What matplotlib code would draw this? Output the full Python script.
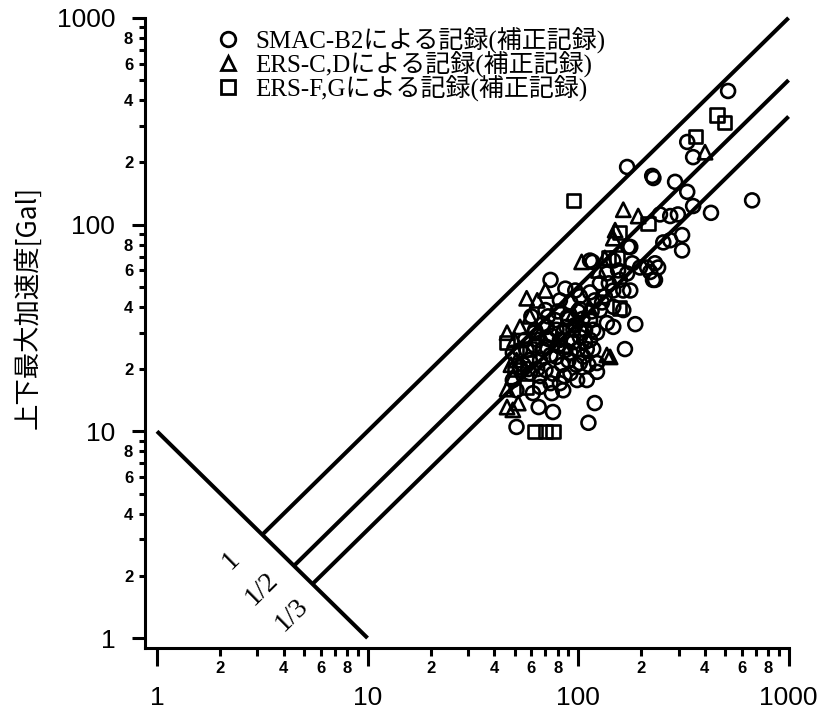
import numpy as np
import matplotlib.pyplot as plt
from matplotlib.lines import Line2D
from matplotlib.ticker import FixedLocator, FuncFormatter
from matplotlib.font_manager import FontProperties

plt.rcParams['font.family'] = ['Liberation Sans', 'Noto Sans CJK JP']

# 水平最大加速度 [Gal] (x) と 上下最大加速度 [Gal] (y)
smac_x = [516, 330, 352, 171, 225, 228, 289, 330, 671, 352, 428, 245, 274, 298,
          312, 274, 254, 312, 232, 213, 240, 232, 181, 177, 147, 117, 74, 87,
          60, 187, 167, 123, 120, 112, 65, 76, 51,
          71, 79, 102, 114, 92, 110, 123, 102, 92, 82, 74, 66, 59, 53, 49, 49,
          57, 64, 71, 79, 89, 92, 102, 114, 127, 137, 147, 147, 137, 123, 114,
          102, 147, 164, 164, 171, 197, 220, 227, 110, 99, 85, 75, 61, 51, 114,
          173, 82, 74, 66, 87, 97, 108, 127, 78, 70, 82, 97, 120, 134, 158,
          177, 56, 62.5, 70, 59, 53,
          85, 95, 105, 90, 100, 118, 130, 140, 155, 80, 68, 62, 58, 72, 88,
          104, 116,
          64, 68, 75, 84, 92, 98, 106, 112, 100, 90, 80, 76, 66, 86, 95,
          108, 118, 72, 62, 55]
smac_y = [443, 251, 212, 190, 172, 168, 161, 144, 131, 123, 114, 112, 110, 112,
          89, 84, 82, 75, 65, 62, 62, 54, 65, 78, 67, 66, 54, 49,
          36, 33, 25, 19.4, 13.7, 11, 13.1, 12.4, 10.5,
          32, 31, 39, 34.5, 28, 25, 21.4, 21.4, 19.1, 17.1, 17.1, 16.4, 19.1,
          20.5, 24, 17.7, 24.7, 27.7, 25.6, 22.9, 35.7, 42, 45, 47, 52, 58, 48,
          40, 33.4, 30, 27.7, 28.6, 32, 38.6, 48, 58, 62, 59, 54, 17.7, 17.7,
          15.8, 15.3, 15.3, 15.8, 67, 78, 27.7, 23.4, 22.1, 24.7, 32.7, 30.9,
          38.6, 34.5, 38.6, 43, 48, 43, 45, 54, 48, 27.7, 30.9, 19.8, 22.1, 24.7,
          30, 27, 35, 22, 25, 31, 42, 52, 60, 38, 33, 26, 20, 28, 32,
          30, 38,
          20, 25, 29, 21, 24, 21, 23, 21, 38, 35, 26, 19, 18.5, 18.5, 31,
          27, 25, 36, 30, 21]

ers_cd_x = [401, 164, 193, 150, 147, 104, 134, 57, 64, 53, 142, 46, 52, 50, 51,
            49, 49, 137, 59, 70, 66, 85, 95, 113, 125, 46, 48, 46]
ers_cd_y = [224, 118, 110, 94, 86, 66, 69, 44, 43, 32, 22.9, 13.1, 13.7, 27.7,
            22.1, 18.3, 12.7, 23.4, 36, 48, 30, 26, 37, 40, 60, 30, 21, 16]

ers_fg_x = [457, 494, 360, 95, 215, 158, 46, 62.5, 70, 76, 139, 153, 158, 59,
            50, 57]
ers_fg_y = [339, 313, 268, 131, 101, 92, 27, 10, 10, 10, 69, 69, 39.5, 25,
            20, 16.4]

legend_labels = ['SMAC-B2による記録(補正記録)',
                 'ERS-C,Dによる記録(補正記録)',
                 'ERS-F,Gによる記録(補正記録)']

# 上下/水平 の比
ratios = [1, 1 / 2, 1 / 3]
ratio_texts = ['1', '1/2', '1/3']

fig = plt.figure(figsize=(8.23, 7.11), dpi=100)
ax = fig.add_axes([0.1762, 0.0886, 0.7874, 0.8924])
ax.set_xscale('log')
ax.set_yscale('log')
ax.set_xlim(0.877, 1050)
ax.set_ylim(0.895, 1050)

# y = 10/x の斜線と比率の直線
ax.plot([1, 10], [10, 1], color='black', lw=2.9, solid_capstyle='butt')
for r in ratios:
    x0 = np.sqrt(10 / r)
    ax.plot([x0, 1000], [x0 * r, 1000 * r], color='black', lw=2.9,
            solid_capstyle='butt')

serif = 'Liberation Serif'
ax.text(2.25, 2.36, ratio_texts[0], rotation=44.5, ha='center', va='center',
        rotation_mode='anchor', fontsize=20, family=serif)
ax.text(3.15, 1.73, ratio_texts[1], rotation=44.5, ha='center', va='center',
        rotation_mode='anchor', fontsize=20, family=serif)
ax.text(4.38, 1.29, ratio_texts[2], rotation=44.5, ha='center', va='center',
        rotation_mode='anchor', fontsize=20, family=serif)

mk = dict(facecolors='none', edgecolors='black', linewidths=1.9, zorder=3)
ax.scatter(smac_x, smac_y, marker='o', s=100, **mk)
ax.scatter(ers_cd_x, ers_cd_y, marker='^', s=105, **mk)
ax.scatter(ers_fg_x, ers_fg_y, marker='s', s=90, **mk)

handles = [Line2D([], [], ls='none', marker=m, ms=ms, mfc='none', mec='black', mew=2.0)
           for m, ms in (('o', 10.5), ('^', 10.5), ('s', 10))]
ax.legend(handles, legend_labels, loc='upper left', bbox_to_anchor=(0.2644, 0.962),
          bbox_transform=fig.transFigure, frameon=False, borderpad=0,
          borderaxespad=0, handlelength=0.85, handletextpad=0.65, labelspacing=-0.1,
          prop=FontProperties(family=[serif, 'Noto Sans CJK JP'], size=18))

# 軸
for side in ('top', 'right'):
    ax.spines[side].set_visible(False)
ax.spines['left'].set_bounds(0.895, 1000)
ax.spines['bottom'].set_bounds(0.877, 1000)
ax.spines['left'].set_linewidth(2.2)
ax.spines['bottom'].set_linewidth(2.2)

majors = [1, 10, 100, 1000]
minors = [m * 10 ** k for k in range(3) for m in range(2, 10)]
for axis in (ax.xaxis, ax.yaxis):
    axis.set_major_locator(FixedLocator(majors))
    axis.set_minor_locator(FixedLocator(minors))
    axis.set_major_formatter(FuncFormatter(lambda v, p: '%d' % round(v)))
    axis.set_minor_formatter(FuncFormatter(
        lambda v, p: '%d' % round(v / 10 ** np.floor(np.log10(v) + 1e-9))
        if round(v / 10 ** np.floor(np.log10(v) + 1e-9)) in (2, 4, 6, 8) else ''))

ax.tick_params(axis='x', which='major', length=13, width=2.2, pad=14, labelsize=19)
ax.tick_params(axis='x', which='minor', length=6, width=2.2, pad=3, labelsize=12)
ax.tick_params(axis='y', which='major', length=9.5, width=2.2, pad=12, labelsize=19)
ax.tick_params(axis='y', which='minor', length=4.5, width=2.2, pad=4, labelsize=12)
plt.setp(ax.get_xminorticklabels(), fontweight='bold')
plt.setp(ax.get_yminorticklabels(), fontweight='bold')

ax.set_ylabel('上下最大加速度[Gal]', fontsize=19, family='Noto Sans CJK JP')
ax.yaxis.set_label_coords(-0.16, 0.537)

fig.savefig('out.png', dpi=100)
